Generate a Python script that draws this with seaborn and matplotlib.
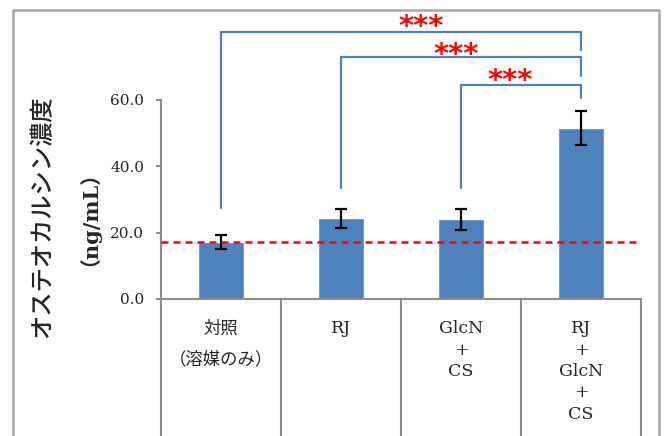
import pandas as pd
import seaborn as sns
import matplotlib.pyplot as plt
from matplotlib.lines import Line2D

# データ
groups = ["対照\n（溶媒のみ）", "RJ", "GlcN\n+\nCS", "RJ\n+\nGlcN\n+\nCS"]
means = [17.2, 24.3, 24.0, 51.5]
errors = [2.0, 2.9, 3.2, 5.2]
control_level = 17.2

# 有意差ブラケット: (左, 右, 上端, 左脚の下端, 右脚の下端)
brackets = [(0, 3, 80.5, 27.3, 74.9),
            (1, 3, 72.8, 33.5, 67.2),
            (2, 3, 64.5, 33.5, 60.7)]
star_labels = ["***", "***", "***"]
star_x = [1.67, 1.96, 2.41]
star_y = [82.0, 73.6, 65.6]

y_ticks = [0, 20, 40, 60]

sns.set_style("white")
plt.rcParams['font.family'] = ['DejaVu Serif', 'Noto Sans CJK JP', 'DejaVu Sans']

W, H = 665, 436
fig = plt.figure(figsize=(W / 100, H / 100), dpi=100)
ax = fig.add_axes([161 / W, 137 / H, 480 / W, 285 / H])

df = pd.DataFrame({'group': groups, 'mean': means})
sns.barplot(data=df, x='group', y='mean', color='#4F81BD', saturation=1,
            width=0.39, errorbar=None, ax=ax)
ax.errorbar(range(len(means)), means, yerr=errors, fmt='none', ecolor='black',
            elinewidth=1.6, capsize=4.3, capthick=1.6, zorder=3)

ax.axhline(control_level, color='red', lw=1.8, dashes=(2.8, 2.0), zorder=4)

# ブラケットとアスタリスク
blue = '#4F81BD'
for (x0, x1, top, left_bot, right_bot) in brackets:
    ax.plot([x0, x0, x1, x1], [left_bot, top, top, right_bot], color=blue, lw=1.6,
            clip_on=False, solid_joinstyle='miter')
for sx, sy, s in zip(star_x, star_y, star_labels):
    ax.text(sx, sy, s, color='red', fontsize=21, fontweight='bold', ha='center',
            va='center', family='DejaVu Sans')

ax.set_xlim(-0.5, len(groups) - 0.5)
ax.set_ylim(0, 85.9)
ax.set_yticks(y_ticks)
ax.set_yticklabels([f"{v:.1f}" for v in y_ticks], fontsize=11)
ax.set_xticks([])
ax.set_xlabel('')
ax.set_ylabel('')

gray = '#8c8c8c'
for side in ['top', 'right']:
    ax.spines[side].set_visible(False)
ax.spines['left'].set_bounds(0, 60)
ax.spines['left'].set_color(gray)
ax.spines['bottom'].set_color(gray)
ax.spines['left'].set_linewidth(1.5)
ax.spines['bottom'].set_linewidth(1.5)
ax.tick_params(axis='y', direction='out', length=3.6, width=1.5, color=gray, pad=8.5,
               left=True)

# 下の表（区切り線とラベル）
trans = ax.get_xaxis_transform()
for i in range(len(groups) + 1):
    ax.plot([i - 0.5, i - 0.5], [0, -0.5], color=gray, lw=1.5, transform=trans,
            clip_on=False)
for i, g in enumerate(groups):
    ls = 2.05 if '対照' in g else 1.33
    ax.text(i, -0.075, g, transform=trans, ha='center', va='top', fontsize=12.5,
            linespacing=ls)

# 縦軸ラベル
fig.text(42 / W, 1 - 217 / H, "オステオカルシン濃度", rotation=90, ha='center', va='center',
         fontsize=17.5, fontweight='medium', family=['Noto Sans CJK JP'])
fig.text(78 / W, 1 - 208 / H, "（ng/mL）", rotation=90, ha='center', va='center',
         fontsize=15, fontweight='bold')

# 外枠
frame_color = '#a6a6a6'
fig.add_artist(Line2D([13 / W, 13 / W, 659 / W, 659 / W], [0, 1 - 10 / H, 1 - 10 / H, 0],
                      color=frame_color, lw=1.8))

fig.savefig('out.png', dpi=100)
